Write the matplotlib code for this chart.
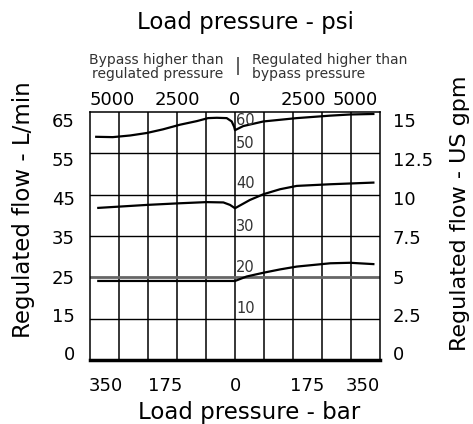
import matplotlib
matplotlib.use('Agg')
import matplotlib.pyplot as plt

plt.rcParams['font.family'] = ['DejaVu Sans']

# Load pressure (bar, negative = bypass side) and regulated flow (US gpm)
top_x = [-335, -295, -253, -213, -174, -133, -92, -65, -44, -20, -8, -2, 0, 20, 69, 149, 230, 278, 334]
top_y = [13.50, 13.48, 13.58, 13.73, 13.95, 14.23, 14.45, 14.63, 14.65, 14.63, 14.43, 14.10, 13.90,
         14.15, 14.43, 14.63, 14.78, 14.85, 14.88]

mid_x = [-330, -213, -133, -69, -28, -12, 0, 36, 69, 109, 149, 230, 334]
mid_y = [9.20, 9.38, 9.48, 9.55, 9.53, 9.38, 9.18, 9.68, 10.03, 10.33, 10.53, 10.63, 10.73]

low_x = [-330, 0, 28, 69, 109, 149, 230, 278, 334]
low_y = [4.78, 4.78, 5.05, 5.28, 5.48, 5.65, 5.85, 5.88, 5.80]

# axis labels
bar_pos = [-313, -169, 0, 174, 309]
bar_labels = ['350', '175', '0', '175', '350']
psi_pos = [-297, -140, 0, 164, 290]
psi_labels = ['5000', '2500', '0', '2500', '5000']
flow_pos = [14.52, 12.16, 9.80, 7.44, 5.02, 2.72, 0.42]
lpm_labels = ['65', '55', '45', '35', '25', '15', '0']
gpm_labels = ['15', '12.5', '10', '7.5', '5', '2.5', '0']
center_pos = [14.5, 13.1, 10.7, 8.1, 5.6, 3.1]
center_labels = ['60', '50', '40', '30', '20', '10']

fig = plt.figure(figsize=(4.73, 4.24), dpi=100)
ax = fig.add_axes([90 / 473, 64 / 424, 290 / 473, 248 / 424])
ax.set_xlim(-350, 350)
ax.set_ylim(0, 15)

# grid
for gx in range(-280, 350, 70):
    ax.axvline(gx, color='black', lw=1.1, zorder=1)
for gy in [2.5, 7.5, 10, 12.5]:
    ax.axhline(gy, color='black', lw=1.0, zorder=1)
ax.axhline(5, color='#666666', lw=2.0, zorder=1)

for s in ax.spines.values():
    s.set_linewidth(1.1)
ax.spines['bottom'].set_linewidth(2.5)

# curves
for xs, ys in [(top_x, top_y), (mid_x, mid_y), (low_x, low_y)]:
    ax.plot(xs, ys, color='black', lw=1.6, zorder=3)

for y, t in zip(center_pos, center_labels):
    ax.text(3, y, t, ha='left', va='center', fontsize=10.5, color='#333333', zorder=4)

# bottom axis (bar)
ax.set_xticks(bar_pos)
ax.set_xticklabels(bar_labels, fontsize=13)
ax.tick_params(axis='x', length=0, pad=12)
ax.set_xlabel('Load pressure - bar', fontsize=16.5)
ax.xaxis.label.set_va('center')
ax.xaxis.set_label_coords(0.548, -0.21)

# left axis (L/min)
ax.set_yticks(flow_pos)
ax.set_yticklabels(lpm_labels, fontsize=13)
ax.tick_params(axis='y', length=0, pad=11)
ax.set_ylabel('Regulated flow - L/min', fontsize=16.5)
ax.yaxis.label.set_va('center')
ax.yaxis.set_label_coords(-0.228, 0.605)

# top axis (psi)
axt = ax.twiny()
axt.set_xlim(ax.get_xlim())
axt.set_xticks(psi_pos)
axt.set_xticklabels(psi_labels, fontsize=13)
axt.tick_params(axis='x', length=0, pad=2)

# right axis (gpm)
axr = ax.twinx()
axr.set_ylim(ax.get_ylim())
axr.set_yticks(flow_pos)
axr.set_yticklabels(gpm_labels, fontsize=13)
axr.tick_params(axis='y', length=0, pad=9)
axr.set_ylabel('Regulated flow - US gpm', fontsize=16)
axr.yaxis.label.set_va('center')
axr.yaxis.set_label_coords(1.277, 0.593)

for a in (axt, axr):
    for s in a.spines.values():
        s.set_visible(False)

fig.text(245 / 473, 1 - 23 / 424, 'Load pressure - psi', ha='center', va='center', fontsize=16.5)
fig.text(223 / 473, 1 - 67 / 424, 'Bypass higher than\nregulated pressure', ha='right', va='center',
         fontsize=10, color='#333333', linespacing=1.0)
fig.text(252 / 473, 1 - 67 / 424, 'Regulated higher than\nbypass pressure', ha='left', va='center',
         fontsize=10, color='#333333', linespacing=1.0)
fig.text(238 / 473, 1 - 66 / 424, '|', ha='center', va='center', fontsize=13, color='#333333')

fig.savefig('out.png', dpi=100)
